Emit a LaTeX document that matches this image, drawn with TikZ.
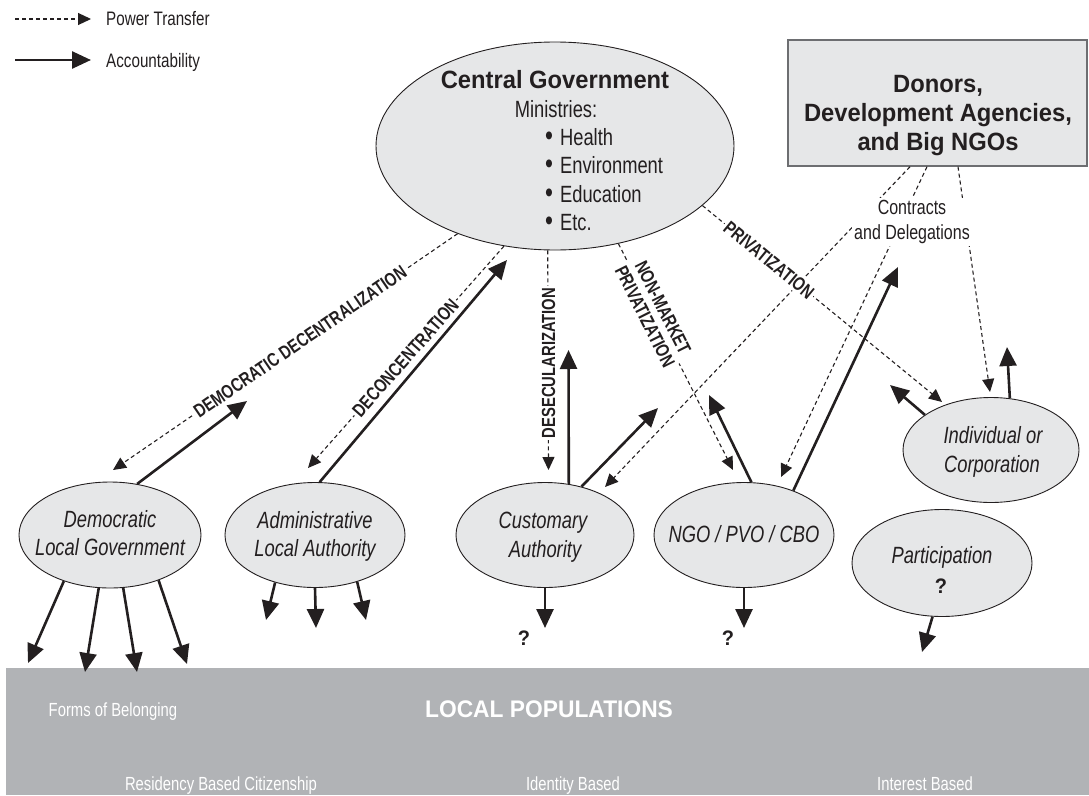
\documentclass[tikz,border=0pt]{standalone}
\usepackage{fontspec}
\setmainfont{Liberation Sans}
\newfontfamily\cond{Liberation Sans}[FakeStretch=0.78]
\newfontfamily\bcond{Liberation Sans}[FakeStretch=0.95]
\newfontfamily\lcond{Liberation Sans}[FakeStretch=0.78]
\usetikzlibrary{arrows.meta,shapes.geometric}
\definecolor{ellfill}{HTML}{E6E7E8}
\definecolor{boxedge}{HTML}{6D6E71}
\definecolor{bargray}{HTML}{B1B3B6}
\definecolor{inkc}{HTML}{231F20}
\newcommand\myT{\bcond\bfseries\fontsize{25}{30}\selectfont}
\newcommand\myN{\cond\fontsize{23.5}{28.5}\selectfont}
\newcommand\myE{\cond\itshape\fontsize{23.5}{29}\selectfont}
\newcommand\myL{\cond\fontsize{19.5}{24}\selectfont}
\newcommand\myC{\cond\fontsize{20.5}{25.5}\selectfont}
\newcommand\myB{\lcond\bfseries\fontsize{19}{20}\selectfont}
\newcommand\myP{\cond\fontsize{19}{23}\selectfont}
\newcommand\myQ{\bcond\bfseries\fontsize{21}{24}\selectfont}
\newcommand\myLP{\bcond\bfseries\fontsize{24}{28}\selectfont}
\newcommand\myBul{{\fontsize{29}{29}\selectfont •}\hspace{7pt}}
\begin{document}
\begin{tikzpicture}[x=1pt,y=-1pt,
  ell/.style={ellipse, draw=inkc, line width=0.9pt, fill=ellfill, inner sep=0pt},
  pw/.style={draw=inkc, line width=1.1pt, dash pattern=on 4pt off 3pt, -{Triangle[length=13pt,width=12pt]}},
  acc/.style={draw=inkc, line width=2.6pt, -{Triangle[length=19pt,width=17pt]}},
  txt/.style={inner sep=0pt, text=inkc},
  wtxt/.style={inner sep=0pt, text=white},
  lab/.style={fill=white, inner sep=2pt, align=center, font=\myB, text=inkc},
]
\useasboundingbox (0,0) rectangle (1089,795);

% local populations bar
\node[fill=bargray, inner sep=0pt, minimum width=1083pt, minimum height=127pt, anchor=north west] (pop) at (6,668) {};

% shapes
\node[ell, minimum width=358pt, minimum height=208pt] (cg) at (555,146) {};
\node[fill=ellfill, draw=boxedge, line width=1.4pt, minimum width=299pt, minimum height=126pt, inner sep=0pt] (don) at (937.5,103) {};
\node[ell, minimum width=182pt, minimum height=106pt] (dlg) at (110,535) {};
\node[ell, minimum width=180pt, minimum height=105pt] (ala) at (315,535) {};
\node[ell, minimum width=178pt, minimum height=105pt] (ca) at (545,535) {};
\node[ell, minimum width=180pt, minimum height=105pt] (ngo) at (744,535) {};
\node[ell, minimum width=176pt, minimum height=105pt] (ind) at (991,450) {};
\node[ell, minimum width=180pt, minimum height=107pt] (par) at (942,563) {};

% legend
\coordinate (lg1a) at (15,19); \coordinate (lg1b) at (91,19);
\coordinate (lg2a) at (15,60); \coordinate (lg2b) at (91,60);
\draw[pw] (lg1a) -- (lg1b);
\draw[acc] (lg2a) -- (lg2b);
\node[txt, font=\myL, anchor=base west] (lgt1) at (106,25) {Power Transfer};
\node[txt, font=\myL, anchor=base west] (lgt2) at (106,67) {Accountability};

% free tips of power-transfer arrows
\coordinate (tDD) at (113,470);
\coordinate (tDC) at (308,468);
\coordinate (tDS) at (548.5,470);
\coordinate (tNM) at (733,470);
\coordinate (tPR) at (942,402);
\coordinate (tCA) at (605,487);
\coordinate (tNG) at (781,477);
\coordinate (tIN) at (990,392);

% power transfer
\draw[pw] (cg.222.1) -- (tDD);
\draw[pw] (cg.243.3) -- (tDC);
\draw[pw] (cg.266.4) -- (tDS);
\draw[pw] (cg.303.4) -- (tNM);
\draw[pw] (cg.338.3) -- (tPR);
\draw[pw] ([xshift=-27.5pt]don.south) -- (tCA);
\draw[pw] ([xshift=-10.5pt]don.south) -- (tNG);
\draw[pw] ([xshift=20.5pt]don.south) -- (tIN);

% labels on power-transfer lines
\node[lab, rotate=34.4] (lDD) at (300,342) {DEMOCRATIC DECENTRALIZATION};
\node[lab, rotate=48.5] (lDC) at (405.5,358) {DECONCENTRATION};
\node[lab, rotate=90] (lDS) at (548.7,363) {DESECULARIZATION};
\node[lab, rotate=-63.3] (lNM) at (654,312) {NON-MARKET\\PRIVATIZATION};
\node[lab, rotate=-39.4] (lPR) at (769,260) {PRIVATIZATION};
\node[fill=white, inner sep=2pt, align=center, font=\myC, text=inkc] (cd) at (912,222) {Contracts\\and Delegations};

% accountability arrows
\coordinate (aDL) at (247,401);
\coordinate (aAL) at (507,260);
\coordinate (aCA1) at (568.5,350);
\coordinate (aCA2) at (658,408);
\coordinate (aNG1) at (709,395);
\coordinate (aNG2) at (898,267);
\coordinate (aIN1) at (890,385);
\coordinate (aIN2) at (1007,347);
\draw[acc] (dlg.62) -- (aDL);
\draw[acc] (ala.85) -- (aAL);
\draw[acc] (ca.65) -- (aCA1);
\draw[acc] (ca.53) -- (aCA2);
\draw[acc] (ngo.82) -- (aNG1);
\draw[acc] (ngo.42) -- (aNG2);
\draw[acc] (ind.152) -- (aIN1);
\draw[acc] (ind.70) -- (aIN2);

% downward arrows to local populations
\coordinate (dD1) at (28,663);
\coordinate (dD2) at (85,672);
\coordinate (dD3) at (137,672);
\coordinate (dD4) at (187,664);
\coordinate (dA1) at (266,620);
\coordinate (dA2) at (316,628);
\coordinate (dA3) at (366,620);
\coordinate (dC1) at (545,628);
\coordinate (dN1) at (744,628);
\coordinate (dP1) at (922,652);
\draw[acc] (dlg.225) -- (dD1);
\draw[acc] (dlg.258) -- (dD2);
\draw[acc] (dlg.284) -- (dD3);
\draw[acc] (dlg.317) -- (dD4);
\draw[acc] (ala.230) -- (dA1);
\draw[acc] (ala.270) -- (dA2);
\draw[acc] (ala.312) -- (dA3);
\draw[acc] (ca.270) -- (dC1);
\draw[acc] (ngo.270) -- (dN1);
\draw[acc] (par.260) -- (dP1);

% central government text
\node[txt, font=\myT, anchor=base] (cgT) at (555,88) {Central Government};
\node[txt, font=\myN, anchor=base] (cgM) at (556,117) {Ministries:};
\node[txt, font=\myN, anchor=base west] (cg1) at (545,145) {\myBul Health};
\node[txt, font=\myN, anchor=base west] (cg2) at (545,173) {\myBul Environment};
\node[txt, font=\myN, anchor=base west] (cg3) at (545,202) {\myBul Education};
\node[txt, font=\myN, anchor=base west] (cg4) at (545,230) {\myBul Etc.};

% donors text
\node[txt, font=\myT, anchor=base] (dT1) at (938,92) {Donors,};
\node[txt, font=\myT, anchor=base] (dT2) at (938,121) {Development Agencies,};
\node[txt, font=\myT, anchor=base] (dT3) at (938,150) {and Big NGOs};

% ellipse texts
\node[txt, font=\myE, anchor=base] (e1a) at (110,527) {Democratic};
\node[txt, font=\myE, anchor=base] (e1b) at (110,555) {Local Government};
\node[txt, font=\myE, anchor=base] (e2a) at (315,528) {Administrative};
\node[txt, font=\myE, anchor=base] (e2b) at (315,556) {Local Authority};
\node[txt, font=\myE, anchor=base] (e3a) at (543,528) {Customary};
\node[txt, font=\myE, anchor=base] (e3b) at (545,557) {Authority};
\node[txt, font=\myE, anchor=base] (e4a) at (744,542) {NGO / PVO / CBO};
\node[txt, font=\myE, anchor=base] (e5a) at (993,443) {Individual or};
\node[txt, font=\myE, anchor=base] (e5b) at (992,472) {Corporation};
\node[txt, font=\myE, anchor=base] (e6a) at (942,563) {Participation};
\node[txt, font=\myQ, anchor=base] (e6b) at (941,593) {?};
\node[txt, font=\myQ, anchor=base] (q1) at (524,645) {?};
\node[txt, font=\myQ, anchor=base] (q2) at (728,645) {?};

% bar texts
\node[wtxt, font=\myP, anchor=base] (b1) at (113,716) {Forms of Belonging};
\node[wtxt, font=\myLP, anchor=base] (b2) at (549,717) {LOCAL POPULATIONS};
\node[wtxt, font=\myP, anchor=base] (b3) at (221,790) {Residency Based Citizenship};
\node[wtxt, font=\myP, anchor=base] (b4) at (573,790) {Identity Based};
\node[wtxt, font=\myP, anchor=base] (b5) at (925,790) {Interest Based};
\end{tikzpicture}
\end{document}
